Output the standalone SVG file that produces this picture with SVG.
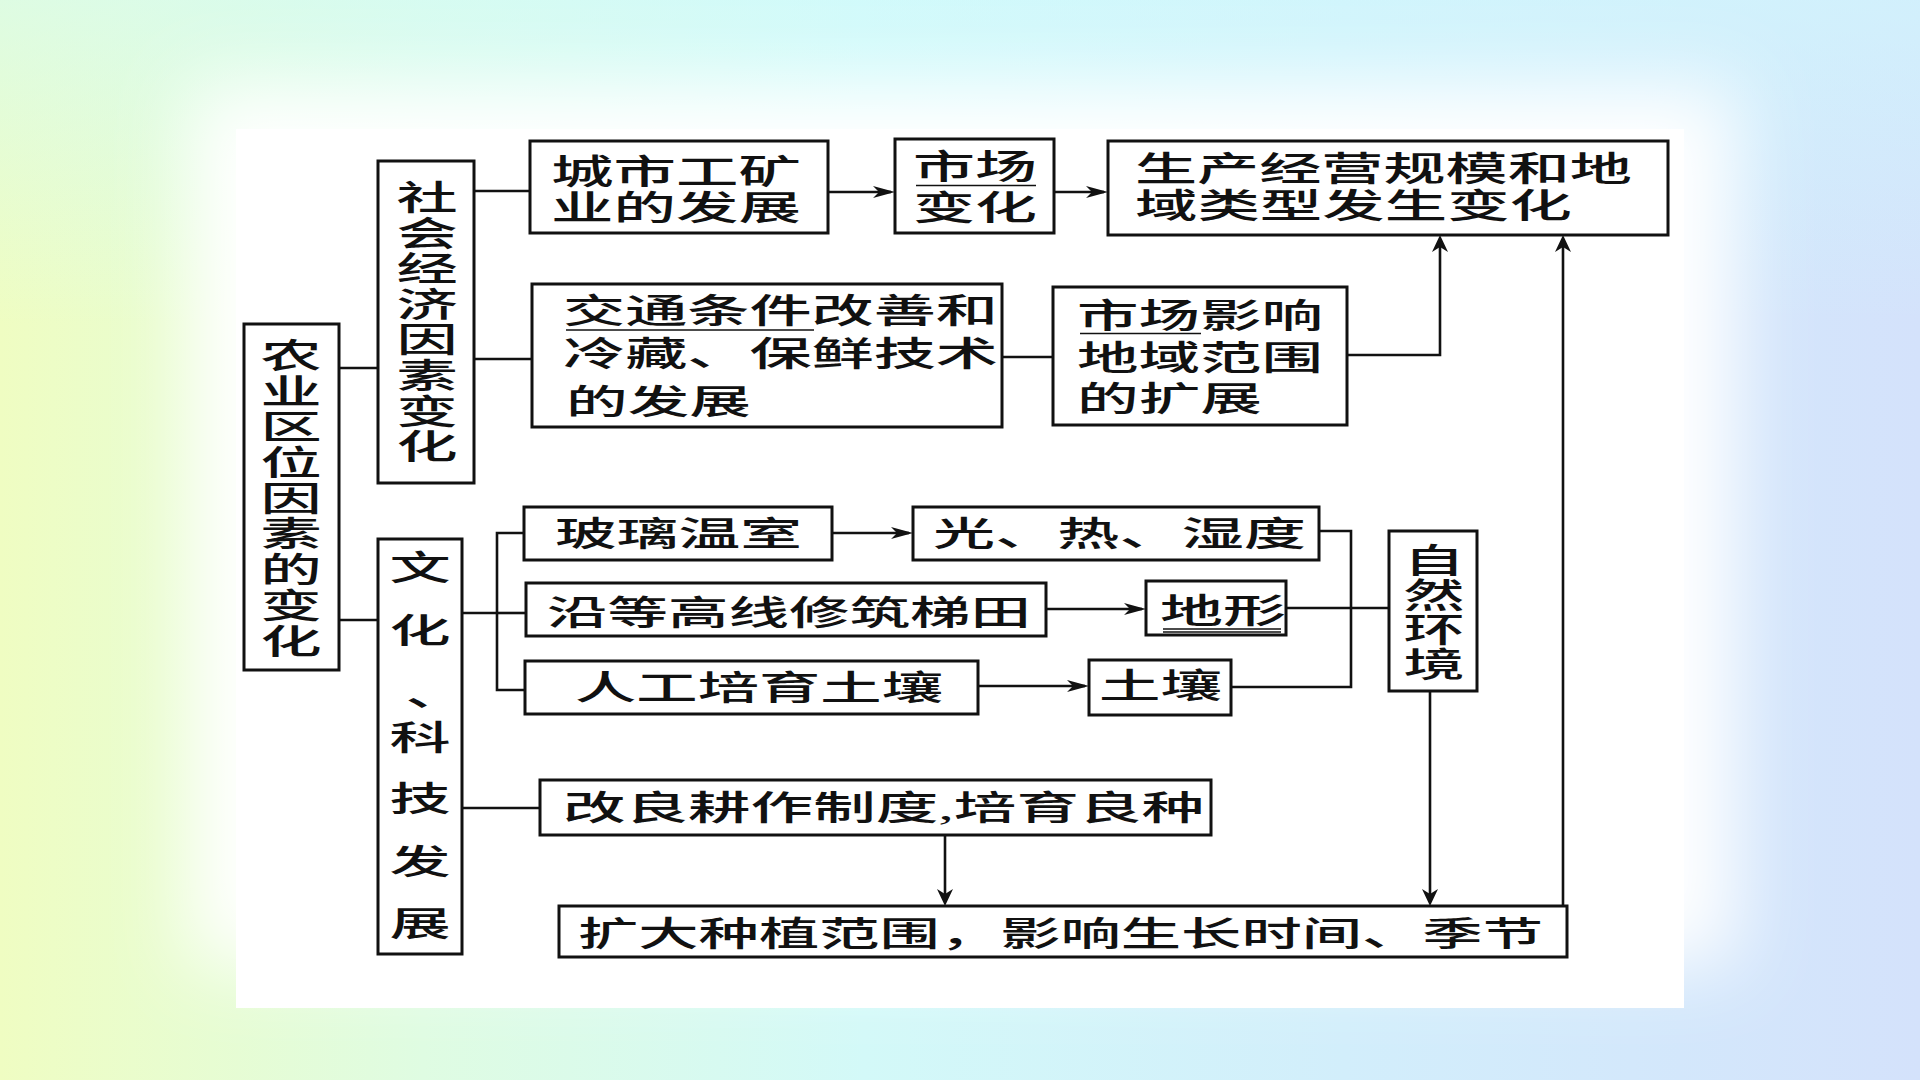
<svg xmlns="http://www.w3.org/2000/svg" width="1920" height="1080" viewBox="0 0 1920 1080">
<defs>
<linearGradient id="bg" x1="0" y1="0" x2="1" y2="0">
<stop offset="0" stop-color="#effdc2"/>
<stop offset="0.22" stop-color="#dffce2"/>
<stop offset="0.45" stop-color="#d3f9f8"/>
<stop offset="0.7" stop-color="#d2eefb"/>
<stop offset="1" stop-color="#d4e2fb"/>
</linearGradient>
<linearGradient id="bgv" x1="0" y1="0" x2="0" y2="1">
<stop offset="0" stop-color="#d0fbfd" stop-opacity="0.55"/>
<stop offset="0.3" stop-color="#d0fbfd" stop-opacity="0"/>
<stop offset="1" stop-color="#d0fbfd" stop-opacity="0"/>
</linearGradient>
<filter id="glow" x="-20%" y="-20%" width="140%" height="140%">
<feGaussianBlur stdDeviation="38"/>
</filter>
<marker id="ah" markerUnits="userSpaceOnUse" viewBox="0 0 22 12" refX="18" refY="6" markerWidth="22" markerHeight="12" orient="auto">
<path d="M0,0 L22,6 L0,12 L6,6 Z" fill="#111"/>
</marker>
<marker id="av" markerUnits="userSpaceOnUse" viewBox="0 0 17 16" refX="13" refY="8" markerWidth="17" markerHeight="16" orient="auto">
<path d="M0,0 L17,8 L0,16 L5,8 Z" fill="#111"/>
</marker>
</defs>
<style>
.box{fill:#fff;stroke:#111;stroke-width:3}
.t{font-family:"Liberation Serif","Noto Sans CJK SC",serif;font-size:34px;font-weight:500;fill:#111}
.c{fill:none;stroke:#111;stroke-width:2.6}
.u{fill:none;stroke:#111;stroke-width:1.6}
</style>
<rect x="0" y="0" width="1920" height="1080" fill="url(#bg)"/>
<rect x="0" y="0" width="1920" height="1080" fill="url(#bgv)"/>
<rect x="190" y="85" width="1545" height="880" fill="#fff" filter="url(#glow)"/>
<rect x="236" y="129" width="1448" height="879" fill="#fff"/>

<g id="connectors">
<path class="c" d="M339,368 H378"/>
<path class="c" d="M339,620 H378"/>
<path class="c" d="M474,191 H530"/>
<path class="c" d="M474,359 H532"/>
<path class="c" d="M828,192 H891" marker-end="url(#ah)"/>
<path class="c" d="M1054,192 H1104" marker-end="url(#ah)"/>
<path class="c" d="M1002,357 H1053"/>
<path class="c" d="M1347,355 H1440 V239" marker-end="url(#av)"/>
<path class="c" d="M1563,906 V239" marker-end="url(#av)"/>
<path class="c" d="M462,613 H497"/>
<path class="c" d="M524,533 H497 V690 H525"/>
<path class="c" d="M497,613 H526"/>
<path class="c" d="M832,533 H909" marker-end="url(#ah)"/>
<path class="c" d="M1046,609 H1142" marker-end="url(#ah)"/>
<path class="c" d="M978,686 H1085" marker-end="url(#ah)"/>
<path class="c" d="M1319,531 H1351 V687 H1231"/>
<path class="c" d="M1286,608 H1389"/>
<path class="c" d="M1430,691 V902" marker-end="url(#av)"/>
<path class="c" d="M462,808 H540"/>
<path class="c" d="M945,835 V902" marker-end="url(#av)"/>
</g>

<g id="n-nongye">
<rect class="box" x="244" y="324" width="95" height="346"/>
<text class="t" text-anchor="middle" transform="translate(291 0) scale(1.8 1)"><tspan x="0" y="368">农</tspan><tspan x="0" y="403.7">业</tspan><tspan x="0" y="439.4">区</tspan><tspan x="0" y="475.1">位</tspan><tspan x="0" y="510.8">因</tspan><tspan x="0" y="546.5">素</tspan><tspan x="0" y="582.2">的</tspan><tspan x="0" y="617.9">变</tspan><tspan x="0" y="653.6">化</tspan></text>
</g>

<g id="n-shehui">
<rect class="box" x="378" y="161" width="96" height="322"/>
<text class="t" text-anchor="middle" transform="translate(427 0) scale(1.8 1)"><tspan x="0" y="210">社</tspan><tspan x="0" y="245.6">会</tspan><tspan x="0" y="281.2">经</tspan><tspan x="0" y="316.8">济</tspan><tspan x="0" y="352.4">因</tspan><tspan x="0" y="388">素</tspan><tspan x="0" y="423.6">变</tspan><tspan x="0" y="459.2">化</tspan></text>
</g>

<g id="n-wenhua">
<rect class="box" x="378" y="539" width="84" height="415"/>
<text class="t" text-anchor="middle" transform="translate(420 0) scale(1.8 1)"><tspan x="0" y="580">文</tspan><tspan x="0" y="643">化</tspan><tspan x="9" y="706">、</tspan><tspan x="0" y="750">科</tspan><tspan x="0" y="811">技</tspan><tspan x="0" y="874">发</tspan><tspan x="0" y="936">展</tspan></text>
</g>

<g id="n-chengshi">
<rect class="box" x="530" y="141" width="298" height="92"/>
<text class="t" x="551" y="184" textLength="250" lengthAdjust="spacingAndGlyphs">城市工矿</text>
<text class="t" x="551" y="219.5" textLength="250" lengthAdjust="spacingAndGlyphs">业的发展</text>
</g>

<g id="n-shichang">
<rect class="box" x="895" y="139" width="159" height="94"/>
<text class="t" x="913" y="178.5" textLength="124" lengthAdjust="spacingAndGlyphs">市场</text>
<path class="u" d="M916,185.5 H1036"/>
<text class="t" x="913" y="219.5" textLength="124" lengthAdjust="spacingAndGlyphs">变化</text>
</g>

<g id="n-shengchan">
<rect class="box" x="1108" y="141" width="560" height="94"/>
<text class="t" x="1135" y="181" textLength="497" lengthAdjust="spacingAndGlyphs">生产经营规模和地</text>
<text class="t" x="1135" y="217.5" textLength="437" lengthAdjust="spacingAndGlyphs">域类型发生变化</text>
</g>

<g id="n-jiaotong">
<rect class="box" x="532" y="284" width="470" height="143"/>
<text class="t" x="563" y="323" textLength="435" lengthAdjust="spacingAndGlyphs">交通条件改善和</text>
<path class="u" d="M566,330 H814"/>
<text class="t" x="563" y="366" textLength="435" lengthAdjust="spacingAndGlyphs">冷藏、保鲜技术</text>
<text class="t" x="566" y="414" textLength="185" lengthAdjust="spacingAndGlyphs">的发展</text>
</g>

<g id="n-shichangyingxiang">
<rect class="box" x="1053" y="287" width="294" height="138"/>
<text class="t" x="1077" y="328" textLength="246" lengthAdjust="spacingAndGlyphs">市场影响</text>
<path class="u" d="M1080,333.5 H1201"/>
<text class="t" x="1077" y="369.5" textLength="246" lengthAdjust="spacingAndGlyphs">地域范围</text>
<text class="t" x="1077" y="410.5" textLength="185" lengthAdjust="spacingAndGlyphs">的扩展</text>
</g>

<g id="n-boli">
<rect class="box" x="524" y="507" width="308" height="53"/>
<text class="t" x="555" y="546" textLength="247" lengthAdjust="spacingAndGlyphs">玻璃温室</text>
</g>

<g id="n-guang">
<rect class="box" x="913" y="507" width="406" height="53"/>
<text class="t" x="933" y="546" textLength="373" lengthAdjust="spacingAndGlyphs">光、热、湿度</text>
</g>

<g id="n-yandeng">
<rect class="box" x="526" y="583" width="520" height="53"/>
<text class="t" x="547" y="624.5" textLength="484" lengthAdjust="spacingAndGlyphs">沿等高线修筑梯田</text>
</g>

<g id="n-dixing">
<rect class="box" x="1146" y="581" width="140" height="54"/>
<text class="t" x="1160" y="623" textLength="126" lengthAdjust="spacingAndGlyphs">地形</text>
<path class="u" d="M1163,629 H1281 M1163,632 H1281" stroke-width="1.2"/>
</g>

<g id="n-rengong">
<rect class="box" x="525" y="661" width="453" height="53"/>
<text class="t" x="575" y="699.5" textLength="368" lengthAdjust="spacingAndGlyphs">人工培育土壤</text>
</g>

<g id="n-turang">
<rect class="box" x="1089" y="660" width="142" height="55"/>
<text class="t" x="1099" y="697.5" textLength="123" lengthAdjust="spacingAndGlyphs">土壤</text>
</g>

<g id="n-ziran">
<rect class="box" x="1389" y="531" width="88" height="160"/>
<text class="t" text-anchor="middle" transform="translate(1434 0) scale(1.8 1)"><tspan x="0" y="573">自</tspan><tspan x="0" y="607.7">然</tspan><tspan x="0" y="642.4">环</tspan><tspan x="0" y="677.1">境</tspan></text>
</g>

<g id="n-gailiang">
<rect class="box" x="540" y="780" width="671" height="55"/>
<text class="t" x="563" y="819.5" textLength="641" lengthAdjust="spacingAndGlyphs">改良耕作制度,培育良种</text>
</g>

<g id="n-kuoda">
<rect class="box" x="559" y="906" width="1008" height="51"/>
<text class="t" x="578" y="945.5" textLength="965" lengthAdjust="spacingAndGlyphs">扩大种植范围，影响生长时间、季节</text>
</g>
</svg>
